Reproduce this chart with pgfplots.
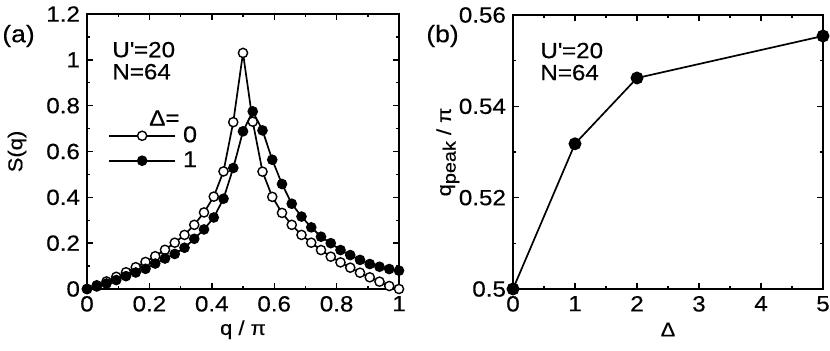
\documentclass[border=0pt]{standalone}
\usepackage{fontspec}
\setmainfont{Liberation Sans}[FakeStretch=1.1, FakeBold=0.4]
\usepackage{pgfplots}
\pgfplotsset{compat=1.18}

% S(q) for Delta=0 (open) and Delta=1 (filled), q = k/32 pi
\newcommand\sqzero{
(0,0) (0.03125,0.016) (0.0625,0.033) (0.09375,0.053) (0.125,0.073)
(0.15625,0.095) (0.1875,0.118) (0.21875,0.143) (0.25,0.171) (0.28125,0.202)
(0.3125,0.236) (0.34375,0.28) (0.375,0.334) (0.40625,0.403) (0.4375,0.513)
(0.46875,0.728) (0.5,1.03) (0.53125,0.73) (0.5625,0.512) (0.59375,0.402)
(0.625,0.332) (0.65625,0.28) (0.6875,0.236) (0.71875,0.202) (0.75,0.17)
(0.78125,0.141) (0.8125,0.116) (0.84375,0.093) (0.875,0.071) (0.90625,0.051)
(0.9375,0.032) (0.96875,0.013) (1,0.0)}
\newcommand\sqone{
(0,0) (0.03125,0.011) (0.0625,0.024) (0.09375,0.039) (0.125,0.056)
(0.15625,0.072) (0.1875,0.088) (0.21875,0.111) (0.25,0.133) (0.28125,0.153)
(0.3125,0.18) (0.34375,0.219) (0.375,0.26) (0.40625,0.312) (0.4375,0.394)
(0.46875,0.528) (0.5,0.688) (0.53125,0.775) (0.5625,0.692) (0.59375,0.564)
(0.625,0.458) (0.65625,0.372) (0.6875,0.316) (0.71875,0.269) (0.75,0.228)
(0.78125,0.2) (0.8125,0.17) (0.84375,0.148) (0.875,0.127) (0.90625,0.109)
(0.9375,0.097) (0.96875,0.087) (1,0.08)}

\pgfplotsset{
  panel/.style={
    scale only axis,
    anchor=south west,
    axis line style={line width=0.8pt},
    every tick/.style={line width=0.7pt, black},
    major tick length=2.8pt,
    minor tick length=1.6pt,
    tick label style={font=\fontsize{11}{12}\selectfont},
    label style={font=\fontsize{11.5}{13}\selectfont},
    /pgf/number format/assume math mode=true,
    every axis x label/.style={at={(axis description cs:0.5,-0.148)}, anchor=center},
  },
}

\begin{document}
\begin{tikzpicture}
\path[use as bounding box] (0,0) rectangle (415pt,175.5pt);

\begin{axis}[panel,
  at={(43.5pt,31pt)}, width=156pt, height=137.5pt,
  xmin=0, xmax=1, ymin=0, ymax=1.2,
  xtick={0,0.2,...,1}, ytick={0,0.2,...,1.2},
  minor x tick num=1, minor y tick num=1,
  xticklabels={0,0.2,0.4,0.6,0.8,1},
  yticklabels={0,0.2,0.4,0.6,0.8,1,1.2},
  xlabel={q / π}, ylabel={S(q)},
  every axis y label/.style={at={(axis description cs:-0.224,0.5)}, rotate=90, anchor=center},
  legend image code/.code={\draw[mark repeat=2, mark phase=2, #1]
     plot coordinates {(0pt,0pt) (16.5pt,0pt) (33pt,0pt)};},
  legend style={draw=none, fill=none, inner sep=0pt, row sep=1pt,
     at={(rel axis cs:0.067,0.512)}, anchor=west,
     nodes={inner sep=1pt, font=\fontsize{11.5}{12}\selectfont}},
  legend cell align=left,
]
\addplot[black, line width=0.85pt, mark=*, mark size=2.3pt,
  mark options={fill=white, line width=0.7pt}] coordinates {\sqzero};
\addlegendentry{\hspace{2.5pt}0}
\addplot[black, line width=0.85pt, mark=*, mark size=2.3pt,
  mark options={fill=black, line width=0.7pt}] coordinates {\sqone};
\addlegendentry{\hspace{2.5pt}1}
\node[anchor=east, inner sep=0pt, font=\fontsize{11}{12}\selectfont]
  at (rel axis cs:0.298,0.622) {Δ=};
\node[anchor=north west, inner sep=0pt, align=left, font=\fontsize{11}{11}\selectfont]
  at (rel axis cs:0.08,0.9) {U\textquotesingle=20\\N=64};
\end{axis}

\begin{axis}[panel,
  at={(256.5pt,31pt)}, width=155pt, height=137pt,
  xmin=0, xmax=5, ymin=0.5, ymax=0.56,
  xtick={0,1,2,3,4,5}, ytick={0.5,0.52,0.54,0.56},
  minor x tick num=1, minor y tick num=1,
  yticklabels={0.5,0.52,0.54,0.56},
  xlabel={Δ},
  ylabel={q\raisebox{-0.45ex}{\fontsize{9}{9}\selectfont peak} / π},
  every axis y label/.style={at={(axis description cs:-0.21,0.5)}, rotate=90, anchor=center},
  clip=false,
]
\addplot[black, line width=0.85pt, mark=*, mark size=2.8pt] coordinates {
  (0,0.5) (1,0.5318) (2,0.5462) (5,0.5554)};
\node[anchor=north west, inner sep=0pt, align=left, font=\fontsize{11}{11}\selectfont]
  at (rel axis cs:0.087,0.9) {U\textquotesingle=20\\N=64};
\end{axis}

\node[anchor=west, inner sep=0pt, font=\fontsize{12}{12}\selectfont] at (1pt,157.5pt) {(a)};
\node[anchor=west, inner sep=0pt, font=\fontsize{12}{12}\selectfont] at (213pt,157.5pt) {(b)};
\end{tikzpicture}
\end{document}
